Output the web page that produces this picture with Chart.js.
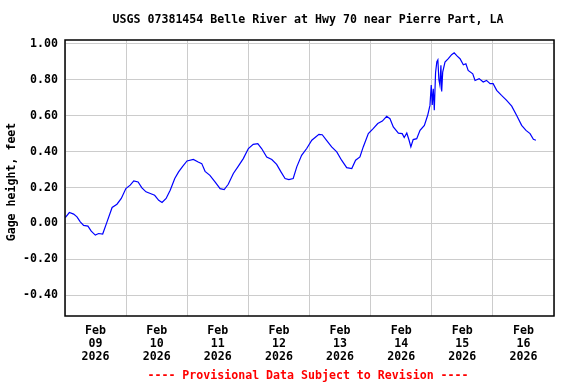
<!DOCTYPE html>
<html>
<head>
<meta charset="utf-8">
<script src="https://cdn.jsdelivr.net/npm/chart.js@4"></script>
<style>
  html, body { margin: 0; padding: 0; background: #fff; }
  #wrap { width: 576px; height: 384px; }
</style>
</head>
<body>
<div id="wrap"><canvas id="chart"></canvas></div>
<script>
// hours since Feb 09 2026 00:00
const hours = [
  0.1, 1.7, 3.4, 4.7, 6.0, 7.3, 9.0, 10.3, 11.9, 13.2, 14.8, 16.5, 18.5, 20.4,
  22.1, 23.9, 25.6, 27.0, 28.7, 30.2, 31.8, 33.5, 35.2, 36.8, 38.1, 39.7, 41.3,
  43.1, 44.6, 46.2, 47.9, 50.4, 52.3, 53.7, 55.0, 56.9, 58.9, 60.9, 62.5, 64.1,
  66.1, 68.0, 70.0, 72.0, 73.9, 75.7, 77.2, 79.2, 81.2, 83.1, 84.8, 86.4, 87.9,
  89.6, 91.0, 92.9, 94.9, 96.9, 98.2, 99.7, 101.0, 102.7, 104.7, 106.7, 108.6,
  110.6, 112.6, 114.1, 115.8, 117.1, 119.1, 121.0, 122.8, 124.6, 126.3, 127.6,
  128.9, 130.9, 132.4, 133.2, 134.2, 135.1, 135.8, 136.7, 138.1, 139.4, 141.1,
  142.4, 143.3, 143.8, 144.2, 144.6, 145.0, 145.5, 146.0, 146.4, 146.8, 147.2,
  147.6, 147.9, 148.3, 149.2, 150.5, 151.8, 152.8, 154.0, 155.1, 156.4, 157.4,
  158.3, 160.1, 161.0, 162.6, 164.2, 165.5, 166.9, 168.1, 169.5, 171.4, 173.4,
  175.4, 177.3, 179.3, 181.0, 182.6, 183.9, 184.9
];
const gageHeight = [
  0.033, 0.061, 0.052, 0.037, 0.009, -0.011, -0.015, -0.043, -0.065, -0.056,
  -0.059, 0.009, 0.089, 0.107, 0.139, 0.194, 0.213, 0.237, 0.231, 0.198, 0.176,
  0.167, 0.157, 0.129, 0.117, 0.139, 0.185, 0.250, 0.287, 0.318, 0.348, 0.356,
  0.342, 0.333, 0.290, 0.268, 0.231, 0.194, 0.189, 0.218, 0.278, 0.318, 0.361,
  0.417, 0.440, 0.444, 0.417, 0.370, 0.356, 0.329, 0.287, 0.250, 0.244, 0.250,
  0.315, 0.379, 0.417, 0.463, 0.478, 0.496, 0.494, 0.463, 0.426, 0.398, 0.352,
  0.311, 0.306, 0.352, 0.370, 0.426, 0.500, 0.528, 0.556, 0.570, 0.596, 0.583,
  0.537, 0.503, 0.500, 0.478, 0.503, 0.463, 0.426, 0.467, 0.472, 0.518, 0.546,
  0.602, 0.657, 0.770, 0.660, 0.750, 0.630, 0.840, 0.900, 0.910, 0.800, 0.770,
  0.880, 0.735, 0.842, 0.898, 0.917, 0.939, 0.950, 0.931, 0.917, 0.883, 0.889,
  0.852, 0.833, 0.796, 0.806, 0.787, 0.796, 0.778, 0.778, 0.741, 0.713, 0.685,
  0.653, 0.602, 0.546, 0.518, 0.500, 0.468, 0.463
];
const dayLabels = ["09", "10", "11", "12", "13", "14", "15", "16"];
const yTicks = [1.0, 0.8, 0.6, 0.4, 0.2, 0.0, -0.2, -0.4];

const FONT = "DejaVu Sans Mono";

const textPlugin = {
  id: "textPlugin",
  afterDraw(chart) {
    const { ctx, chartArea } = chart;
    ctx.save();
    // frame
    ctx.strokeStyle = "#000";
    ctx.lineWidth = 1.5;
    ctx.strokeRect(chartArea.left, chartArea.top,
      chartArea.right - chartArea.left, chartArea.bottom - chartArea.top);

    ctx.font = `bold 11.6px "${FONT}"`;
    ctx.textAlign = "center";
    ctx.textBaseline = "middle";
    ctx.fillStyle = "#000";
    ctx.fillText("USGS 07381454 Belle River at Hwy 70 near Pierre Part, LA", 308, 20);

    ctx.fillStyle = "#ff0000";
    ctx.fillText("---- Provisional Data Subject to Revision ----", 308, 375.5);

    ctx.fillStyle = "#000";
    ctx.translate(12, 182);
    ctx.rotate(-Math.PI / 2);
    ctx.fillText("Gage height, feet", 0, 0);
    ctx.restore();
  },
};

new Chart(document.getElementById("chart"), {
  type: "line",
  data: {
    datasets: [{
      data: hours.map((h, i) => ({ x: h, y: gageHeight[i] })),
      borderColor: "#0000ff",
      borderWidth: 1.2,
      pointRadius: 0,
      tension: 0,
      fill: false,
    }],
  },
  options: {
    responsive: true,
    maintainAspectRatio: false,
    animation: false,
    layout: { padding: { top: 40, right: 22, left: 0, bottom: 0 } },
    plugins: {
      legend: { display: false },
      tooltip: { enabled: false },
    },
    scales: {
      x: {
        type: "linear",
        min: 0,
        max: 192,
        afterBuildTicks: (scale) => {
          const t = [];
          for (let h = 0; h <= 192; h += 12) t.push({ value: h });
          scale.ticks = t;
        },
        afterFit: (scale) => { scale.height = 68; },
        grid: {
          drawTicks: false,
          color: (c) => (c.tick && c.tick.value % 24 === 0 ? "#cccccc" : "rgba(0,0,0,0)"),
          lineWidth: 1,
        },
        border: { display: false },
        ticks: {
          autoSkip: false,
          maxRotation: 0,
          padding: 9,
          color: "#000",
          font: { family: FONT, size: 11.6, weight: "bold", lineHeight: 1.1 },
          callback: (v) => {
            if (v % 24 !== 12) return "";
            return ["Feb", dayLabels[(v - 12) / 24], "2026"];
          },
        },
      },
      y: {
        min: -0.515,
        max: 1.021,
        afterBuildTicks: (scale) => {
          scale.ticks = yTicks.map((v) => ({ value: v }));
        },
        afterFit: (scale) => { scale.width = 65; },
        grid: { drawTicks: false, color: "#cccccc", lineWidth: 1 },
        border: { display: false },
        ticks: {
          padding: 7,
          color: "#000",
          font: { family: FONT, size: 11.6, weight: "bold" },
          callback: (v) => v.toFixed(2),
        },
      },
    },
  },
  plugins: [textPlugin],
});
</script>
</body>
</html>
